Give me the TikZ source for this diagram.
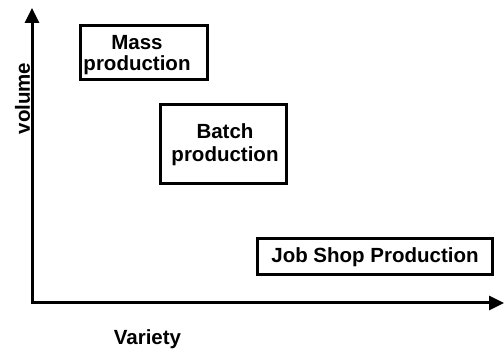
\documentclass[tikz,border=0pt]{standalone}
\usepackage{fontspec}
\setmainfont{Liberation Sans}
\usepackage{tikz}
\usetikzlibrary{calc}
\usetikzlibrary{arrows.meta, positioning}
\tikzset{>={Triangle[length=15pt,width=14pt]}}
\tikzset{
  prodbox/.style={draw, line width=2.6pt, inner sep=0pt},
  prodtext/.style={font=\fontsize{20.5}{23}\selectfont\bfseries, align=center, inner sep=0pt},
  axis/.style={line width=3pt, <->}
}

\begin{document}
\begin{tikzpicture}[x=1pt, y=-1pt]
          \useasboundingbox (0, 0) rectangle (504, 352);
          % axes
          \coordinate (ytop) at (32, 8);
          \coordinate (origin) at (32, 303);
          \coordinate (xend) at (504, 303);
          \draw [axis] (ytop) -- (origin) -- (xend);
          \node [prodtext, rotate=90, anchor=base] (volume) at (30, 98.5) {volume};
          \node [prodtext, anchor=base] (variety) at (147.5, 345) {Variety};
          % boxes
          \node [prodbox, minimum width=126.5pt, minimum height=54.5pt] (mass) at (144, 52.5) {};
          \node [prodtext, font=\fontsize{20.5}{21}\selectfont\bfseries] (masstext) at (137, 55) {Mass\\production};
          \node [prodbox, minimum width=126.5pt, minimum height=79.5pt] (batch) at (223.5, 144) {};
          \node [prodtext] (batchtext) at (225, 145) {Batch\\production};
          \node [prodbox, minimum width=235.5pt, minimum height=36.5pt] (job) at (375, 256.5) {};
          \node [prodtext] (jobtext) at (375, 257) {Job Shop Production};
        \end{tikzpicture}
\end{document}
